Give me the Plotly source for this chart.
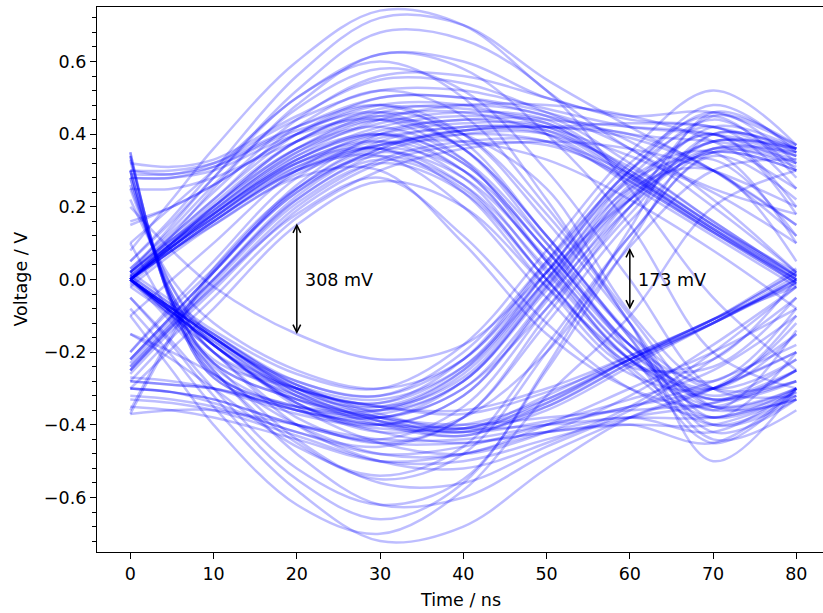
import plotly.graph_objects as go

# sample times of each trace (ns)
t_ns = [0, 5, 10, 20, 30, 40, 50, 60, 70, 80]

# traces grouped by symbol pattern (bit at 20 ns, bit at 60 ns), volts
hh = [
    [0.00, 0.09, 0.17, 0.32, 0.40, 0.43, 0.42, 0.285, 0.135, 0.00],
    [0.01, 0.10, 0.18, 0.33, 0.41, 0.44, 0.43, 0.29, 0.14, 0.01],
    [-0.01, 0.08, 0.16, 0.31, 0.39, 0.42, 0.41, 0.28, 0.13, -0.01],
    [0.02, 0.11, 0.19, 0.35, 0.43, 0.46, 0.44, 0.30, 0.15, 0.02],
    [0.00, 0.08, 0.16, 0.30, 0.37, 0.40, 0.38, 0.27, 0.13, 0.00],
    [-0.25, -0.13, -0.02, 0.20, 0.33, 0.38, 0.38, 0.29, 0.15, 0.00],
    [-0.23, -0.11, 0.00, 0.22, 0.35, 0.40, 0.40, 0.31, 0.16, 0.01],
    [-0.28, -0.16, -0.05, 0.17, 0.30, 0.36, 0.38, 0.36, 0.30, 0.20],
    [0.28, 0.28, 0.31, 0.42, 0.50, 0.50, 0.45, 0.40, 0.38, 0.35],
    [0.32, 0.31, 0.33, 0.45, 0.55, 0.54, 0.46, 0.36, 0.20, 0.02],
    [0.00, 0.10, 0.20, 0.38, 0.47, 0.47, 0.44, 0.42, 0.40, 0.32],
    [-0.22, -0.10, 0.02, 0.25, 0.38, 0.42, 0.42, 0.43, 0.42, 0.36],
    [0.05, 0.17, 0.30, 0.56, 0.72, 0.70, 0.55, 0.42, 0.30, 0.15],
    [0.10, 0.20, 0.30, 0.50, 0.62, 0.60, 0.50, 0.45, 0.46, 0.37],
    [0.02, 0.12, 0.22, 0.40, 0.50, 0.50, 0.46, 0.38, 0.22, 0.02],
    [0.25, 0.25, 0.28, 0.38, 0.45, 0.46, 0.40, 0.26, 0.12, -0.02],
    [0.00, 0.08, 0.16, 0.30, 0.37, 0.38, 0.33, 0.22, 0.08, -0.08],
    [-0.20, -0.08, 0.03, 0.26, 0.40, 0.44, 0.42, 0.40, 0.30, 0.12],
    [-0.37, -0.16, 0.02, 0.24, 0.36, 0.41, 0.41, 0.30, 0.15, 0.01],
    [0.00, 0.09, 0.18, 0.34, 0.44, 0.48, 0.48, 0.45, 0.38, 0.25],
    [0.00, 0.09, 0.18, 0.33, 0.42, 0.45, 0.43, 0.29, 0.14, 0.00],
    [-0.02, 0.07, 0.15, 0.29, 0.37, 0.41, 0.40, 0.27, 0.13, -0.01],
    [-0.26, -0.14, -0.03, 0.19, 0.32, 0.37, 0.37, 0.28, 0.14, -0.01],
    [0.30, 0.29, 0.32, 0.44, 0.52, 0.52, 0.47, 0.42, 0.40, 0.36],
    [0.03, 0.13, 0.24, 0.44, 0.56, 0.56, 0.50, 0.44, 0.42, 0.34],
    [-0.24, -0.12, 0.00, 0.23, 0.36, 0.41, 0.42, 0.39, 0.30, 0.15],
    [0.00, 0.10, 0.19, 0.36, 0.46, 0.48, 0.45, 0.32, 0.16, 0.01],
    [0.08, 0.22, 0.36, 0.60, 0.74, 0.70, 0.52, 0.36, 0.25, 0.18],
    [0.15, 0.20, 0.26, 0.40, 0.48, 0.48, 0.42, 0.34, 0.24, 0.10],
]
hl = [
    [0.00, 0.09, 0.17, 0.32, 0.38, 0.28, 0.02, -0.22, -0.35, -0.30],
    [0.01, 0.10, 0.18, 0.33, 0.40, 0.32, 0.08, -0.18, -0.33, -0.25],
    [-0.24, -0.12, 0.00, 0.22, 0.33, 0.25, 0.00, -0.25, -0.40, -0.32],
    [0.30, 0.30, 0.32, 0.42, 0.48, 0.38, 0.12, -0.15, -0.35, -0.30],
    [0.02, 0.12, 0.22, 0.42, 0.52, 0.45, 0.20, -0.10, -0.35, -0.33],
    [0.00, 0.12, 0.25, 0.48, 0.62, 0.58, 0.40, 0.15, -0.20, -0.30],
    [-0.20, -0.07, 0.05, 0.28, 0.38, 0.30, 0.05, -0.20, -0.30, -0.15],
    [0.00, 0.09, 0.17, 0.32, 0.36, 0.24, -0.02, -0.24, -0.22, 0.00],
    [0.02, 0.11, 0.20, 0.36, 0.42, 0.33, 0.10, -0.15, -0.30, -0.22],
    [-0.22, -0.10, 0.02, 0.25, 0.36, 0.30, 0.08, -0.20, -0.45, -0.30],
    [0.05, 0.16, 0.28, 0.50, 0.60, 0.50, 0.22, -0.12, -0.42, -0.33],
    [0.28, 0.28, 0.30, 0.40, 0.44, 0.33, 0.05, -0.22, -0.30, -0.10],
    [0.00, 0.10, 0.20, 0.38, 0.46, 0.40, 0.18, -0.12, -0.50, -0.30],
    [0.00, 0.08, 0.15, 0.28, 0.30, 0.10, -0.15, -0.30, -0.35, -0.25],
    [-0.25, -0.13, -0.02, 0.18, 0.28, 0.12, -0.12, -0.30, -0.38, -0.30],
    [-0.30, -0.19, -0.08, 0.15, 0.27, 0.20, -0.02, -0.22, -0.33, -0.25],
    [0.02, 0.15, 0.28, 0.52, 0.68, 0.66, 0.52, 0.25, -0.05, -0.25],
    [0.01, 0.10, 0.19, 0.35, 0.44, 0.40, 0.25, -0.09, -0.30, -0.28],
    [0.00, 0.09, 0.17, 0.31, 0.36, 0.26, 0.00, -0.23, -0.24, -0.05],
    [-0.36, -0.15, 0.03, 0.25, 0.34, 0.26, 0.03, -0.22, -0.36, -0.31],
    [0.00, 0.09, 0.18, 0.34, 0.40, 0.30, 0.05, -0.20, -0.33, -0.28],
    [-0.25, -0.13, -0.01, 0.21, 0.32, 0.24, 0.00, -0.24, -0.38, -0.31],
    [0.02, 0.11, 0.21, 0.38, 0.45, 0.36, 0.12, -0.16, -0.40, -0.33],
    [0.29, 0.29, 0.31, 0.41, 0.46, 0.36, 0.10, -0.18, -0.32, -0.22],
    [0.00, 0.08, 0.16, 0.30, 0.34, 0.20, -0.05, -0.26, -0.30, -0.12],
    [0.03, 0.14, 0.26, 0.47, 0.58, 0.52, 0.30, 0.00, -0.30, -0.32],
    [-0.22, -0.10, 0.02, 0.24, 0.35, 0.28, 0.06, -0.18, -0.28, -0.08],
    [0.00, 0.10, 0.20, 0.36, 0.44, 0.36, 0.12, -0.16, -0.44, -0.36],
    [0.16, 0.20, 0.26, 0.40, 0.48, 0.40, 0.16, -0.12, -0.38, -0.20],
    [-0.10, 0.00, 0.10, 0.30, 0.40, 0.32, 0.08, -0.18, -0.36, -0.14],
]
lh = [
    [0.00, -0.08, -0.16, -0.30, -0.36, -0.28, -0.02, 0.22, 0.35, 0.30],
    [0.35, -0.07, -0.27, -0.36, -0.38, -0.30, -0.05, 0.20, 0.36, 0.33],
    [-0.30, -0.31, -0.33, -0.40, -0.44, -0.35, -0.08, 0.20, 0.38, 0.35],
    [0.00, -0.10, -0.20, -0.38, -0.45, -0.38, -0.10, 0.20, 0.45, 0.37],
    [-0.05, -0.17, -0.30, -0.52, -0.62, -0.55, -0.25, 0.10, 0.40, 0.35],
    [0.25, -0.02, -0.16, -0.28, -0.32, -0.20, 0.05, 0.30, 0.48, 0.35],
    [0.00, -0.08, -0.15, -0.28, -0.32, -0.22, 0.02, 0.28, 0.35, 0.10],
    [0.02, -0.06, -0.14, -0.26, -0.30, -0.18, 0.08, 0.35, 0.52, 0.37],
    [-0.28, -0.29, -0.30, -0.35, -0.36, -0.25, 0.02, 0.30, 0.42, 0.25],
    [0.30, -0.06, -0.24, -0.36, -0.40, -0.32, -0.05, 0.25, 0.40, 0.20],
    [0.00, -0.09, -0.17, -0.31, -0.35, -0.25, 0.00, 0.25, 0.30, 0.05],
    [0.00, -0.09, -0.18, -0.34, -0.42, -0.38, -0.20, 0.09, 0.30, 0.33],
    [0.10, -0.10, -0.25, -0.45, -0.55, -0.48, -0.20, 0.12, 0.35, 0.32],
    [0.20, 0.08, -0.02, -0.15, -0.22, -0.18, 0.02, 0.22, 0.35, 0.30],
    [-0.10, -0.25, -0.40, -0.62, -0.70, -0.58, -0.32, -0.10, 0.20, 0.30],
    [0.33, -0.06, -0.22, -0.30, -0.34, -0.22, 0.05, 0.32, 0.45, 0.28],
    [0.00, -0.08, -0.16, -0.29, -0.33, -0.24, 0.00, 0.24, 0.38, 0.36],
    [-0.02, -0.10, -0.18, -0.32, -0.38, -0.30, -0.08, 0.18, 0.40, 0.36],
    [0.01, -0.07, -0.15, -0.29, -0.35, -0.27, -0.01, 0.23, 0.36, 0.31],
    [0.34, -0.06, -0.26, -0.35, -0.37, -0.28, -0.03, 0.22, 0.38, 0.34],
    [-0.30, -0.31, -0.34, -0.42, -0.46, -0.38, -0.12, 0.16, 0.36, 0.34],
    [0.00, -0.09, -0.18, -0.34, -0.40, -0.32, -0.06, 0.22, 0.42, 0.36],
    [0.28, -0.04, -0.20, -0.32, -0.36, -0.26, 0.00, 0.28, 0.44, 0.30],
    [-0.05, -0.18, -0.32, -0.55, -0.66, -0.56, -0.24, 0.14, 0.46, 0.36],
    [0.00, -0.08, -0.16, -0.30, -0.34, -0.24, 0.02, 0.27, 0.33, 0.12],
    [0.22, 0.00, -0.12, -0.25, -0.30, -0.22, 0.04, 0.30, 0.46, 0.32],
    [-0.15, -0.22, -0.30, -0.46, -0.54, -0.46, -0.18, 0.12, 0.34, 0.22],
    [0.00, -0.09, -0.18, -0.33, -0.38, -0.28, -0.02, 0.26, 0.40, 0.18],
]
ll = [
    [0.00, -0.08, -0.16, -0.30, -0.38, -0.42, -0.33, -0.22, -0.12, 0.00],
    [0.01, -0.07, -0.15, -0.29, -0.37, -0.41, -0.32, -0.21, -0.11, 0.02],
    [-0.01, -0.09, -0.17, -0.32, -0.40, -0.43, -0.35, -0.23, -0.12, -0.01],
    [0.35, -0.07, -0.27, -0.36, -0.40, -0.42, -0.36, -0.24, -0.12, 0.00],
    [0.30, -0.05, -0.23, -0.33, -0.38, -0.41, -0.40, -0.38, -0.38, -0.33],
    [-0.30, -0.31, -0.33, -0.40, -0.45, -0.45, -0.42, -0.40, -0.40, -0.32],
    [0.00, -0.12, -0.25, -0.48, -0.62, -0.60, -0.48, -0.38, -0.30, -0.15],
    [-0.08, -0.21, -0.35, -0.58, -0.72, -0.68, -0.52, -0.38, -0.30, -0.20],
    [-0.28, -0.29, -0.30, -0.36, -0.40, -0.40, -0.33, -0.22, -0.11, -0.02],
    [0.00, -0.09, -0.18, -0.34, -0.42, -0.45, -0.42, -0.40, -0.45, -0.30],
    [0.28, -0.04, -0.20, -0.30, -0.35, -0.36, -0.30, -0.21, -0.11, 0.02],
    [-0.32, -0.33, -0.35, -0.42, -0.48, -0.46, -0.40, -0.35, -0.30, -0.20],
    [0.00, -0.10, -0.20, -0.40, -0.50, -0.52, -0.45, -0.35, -0.20, -0.02],
    [-0.35, -0.36, -0.38, -0.44, -0.50, -0.48, -0.42, -0.38, -0.42, -0.30],
    [0.00, -0.08, -0.16, -0.31, -0.39, -0.42, -0.39, -0.33, -0.25, -0.10],
    [0.26, -0.02, -0.18, -0.30, -0.35, -0.37, -0.31, -0.22, -0.11, 0.03],
    [-0.37, -0.36, -0.36, -0.40, -0.44, -0.44, -0.40, -0.35, -0.28, -0.18],
    [0.00, -0.08, -0.16, -0.31, -0.39, -0.43, -0.34, -0.22, -0.12, 0.00],
    [0.34, -0.06, -0.26, -0.35, -0.39, -0.41, -0.35, -0.23, -0.12, 0.01],
    [-0.27, -0.28, -0.30, -0.37, -0.41, -0.41, -0.34, -0.22, -0.11, -0.01],
    [0.00, -0.09, -0.18, -0.35, -0.45, -0.48, -0.42, -0.32, -0.18, -0.02],
    [0.30, -0.05, -0.23, -0.33, -0.38, -0.40, -0.38, -0.36, -0.34, -0.28],
    [-0.33, -0.34, -0.36, -0.43, -0.50, -0.50, -0.44, -0.38, -0.34, -0.25],
    [0.01, -0.11, -0.23, -0.44, -0.56, -0.56, -0.46, -0.36, -0.22, -0.05],
    [-0.15, -0.20, -0.26, -0.40, -0.48, -0.48, -0.40, -0.30, -0.20, -0.08],
]

# eye openings
eye_t = [20, 60]
eye_mv = [308, 173]

FONT = "DejaVu Sans, Liberation Sans, sans-serif"
FS = 17.5

fig = go.Figure()
for group in (hh, hl, lh, ll):
    for row in group:
        fig.add_trace(go.Scatter(
            x=t_ns, y=row, mode="lines",
            line=dict(color="rgba(0,0,255,0.26)", width=2.5, shape="spline", smoothing=1.0),
            hoverinfo="skip", showlegend=False))

for t, mv in zip(eye_t, eye_mv):
    half = mv / 2000.0
    fig.add_annotation(x=t, y=half, ax=t, ay=-half, xref="x", yref="y", axref="x", ayref="y",
                       text="", showarrow=True, arrowside="end+start",
                       arrowhead=5, startarrowhead=5, arrowsize=1, startarrowsize=1,
                       arrowwidth=1.5, arrowcolor="black", standoff=0, startstandoff=0)
    fig.add_annotation(x=t + 0.7, y=0, xref="x", yref="y", text=f"{mv} mV", showarrow=False,
                       xanchor="left", yanchor="middle", font=dict(size=FS, color="black", family=FONT))

# axis titles placed like the matplotlib original
fig.add_annotation(x=0.5, y=0, xref="paper", yref="paper", yshift=-48, text="Time / ns",
                   showarrow=False, xanchor="center", yanchor="middle",
                   font=dict(size=FS, color="black", family=FONT))
fig.add_annotation(x=0, y=0.5, xref="paper", yref="paper", xshift=-77, text="Voltage / V",
                   showarrow=False, textangle=-90, xanchor="center", yanchor="middle",
                   font=dict(size=FS, color="black", family=FONT))

axis_common = dict(showgrid=False, zeroline=False, showline=True, linecolor="black", linewidth=1.3,
                   ticks="outside", ticklen=6, tickwidth=1.3, tickcolor="black", automargin=False,
                   tickfont=dict(size=FS, color="black", family=FONT))

fig.update_xaxes(range=[-4, 83.2], dtick=10, tick0=0, mirror=True, **axis_common)
fig.update_yaxes(range=[-0.75, 0.75], dtick=0.2, tick0=0, tickformat=".1f",
                 minor=dict(dtick=0.04, ticks="outside", ticklen=3.5, tickcolor="black", tickwidth=1.1),
                 **axis_common)

fig.update_layout(template="none", width=823, height=613, margin=dict(l=97, r=0, t=7, b=61),
                  plot_bgcolor="white", paper_bgcolor="white",
                  font=dict(family=FONT, color="black"))

# the page's default body margin would shift the figure, so drop it
fig.write_html("out.html", config={"displayModeBar": False},
               post_script="document.body.style.margin='0';")
